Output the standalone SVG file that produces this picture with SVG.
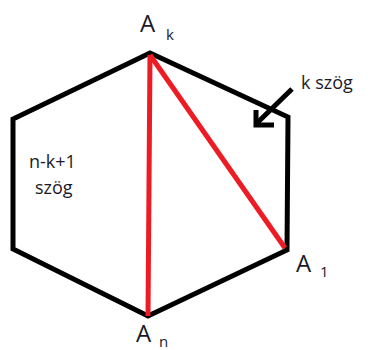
<svg xmlns="http://www.w3.org/2000/svg" width="368" height="350" viewBox="0 0 368 350">
<style>
.edge{fill:none;stroke:#000;stroke-width:5;stroke-linejoin:miter}
.diag{fill:none;stroke:#ed1c24;stroke-width:5}
.lbl{font-family:"Open Sans","Liberation Sans",sans-serif;fill:#1a1a2a}
.big{font-size:24px}
.sub{font-size:15px}
.txt{font-size:18px}
</style>
<rect width="368" height="350" fill="#fff"/>
<g id="hexagon">
<polygon class="edge" points="150,53 288,117 287,250 148,316 13,249 13,119"/>
</g>
<g id="connectors">
<line class="diag" x1="150" y1="55" x2="148" y2="316"/>
<line class="diag" x1="150" y1="55" x2="285" y2="248"/>
<g id="arrow">
<line x1="292" y1="89" x2="257" y2="123" stroke="#000" stroke-width="5"/>
<polyline points="256,110 256,125 274,125" fill="none" stroke="#000" stroke-width="5"/>
</g>
</g>
<g id="Ak"><text class="lbl big" x="140" y="32">A</text><text class="lbl sub" x="166" y="40">k</text></g>
<g id="A1"><text class="lbl big" x="296" y="272">A</text><text class="lbl sub" x="320" y="277">1</text></g>
<g id="An"><text class="lbl big" x="136" y="342">A</text><text class="lbl sub" x="159" y="347">n</text></g>
<g id="ksz"><text class="lbl txt" x="301" y="89">k szög</text></g>
<g id="nk"><text class="lbl txt" x="29" y="168">n-k+1</text><text class="lbl txt" x="35" y="194">szög</text></g>
</svg>
